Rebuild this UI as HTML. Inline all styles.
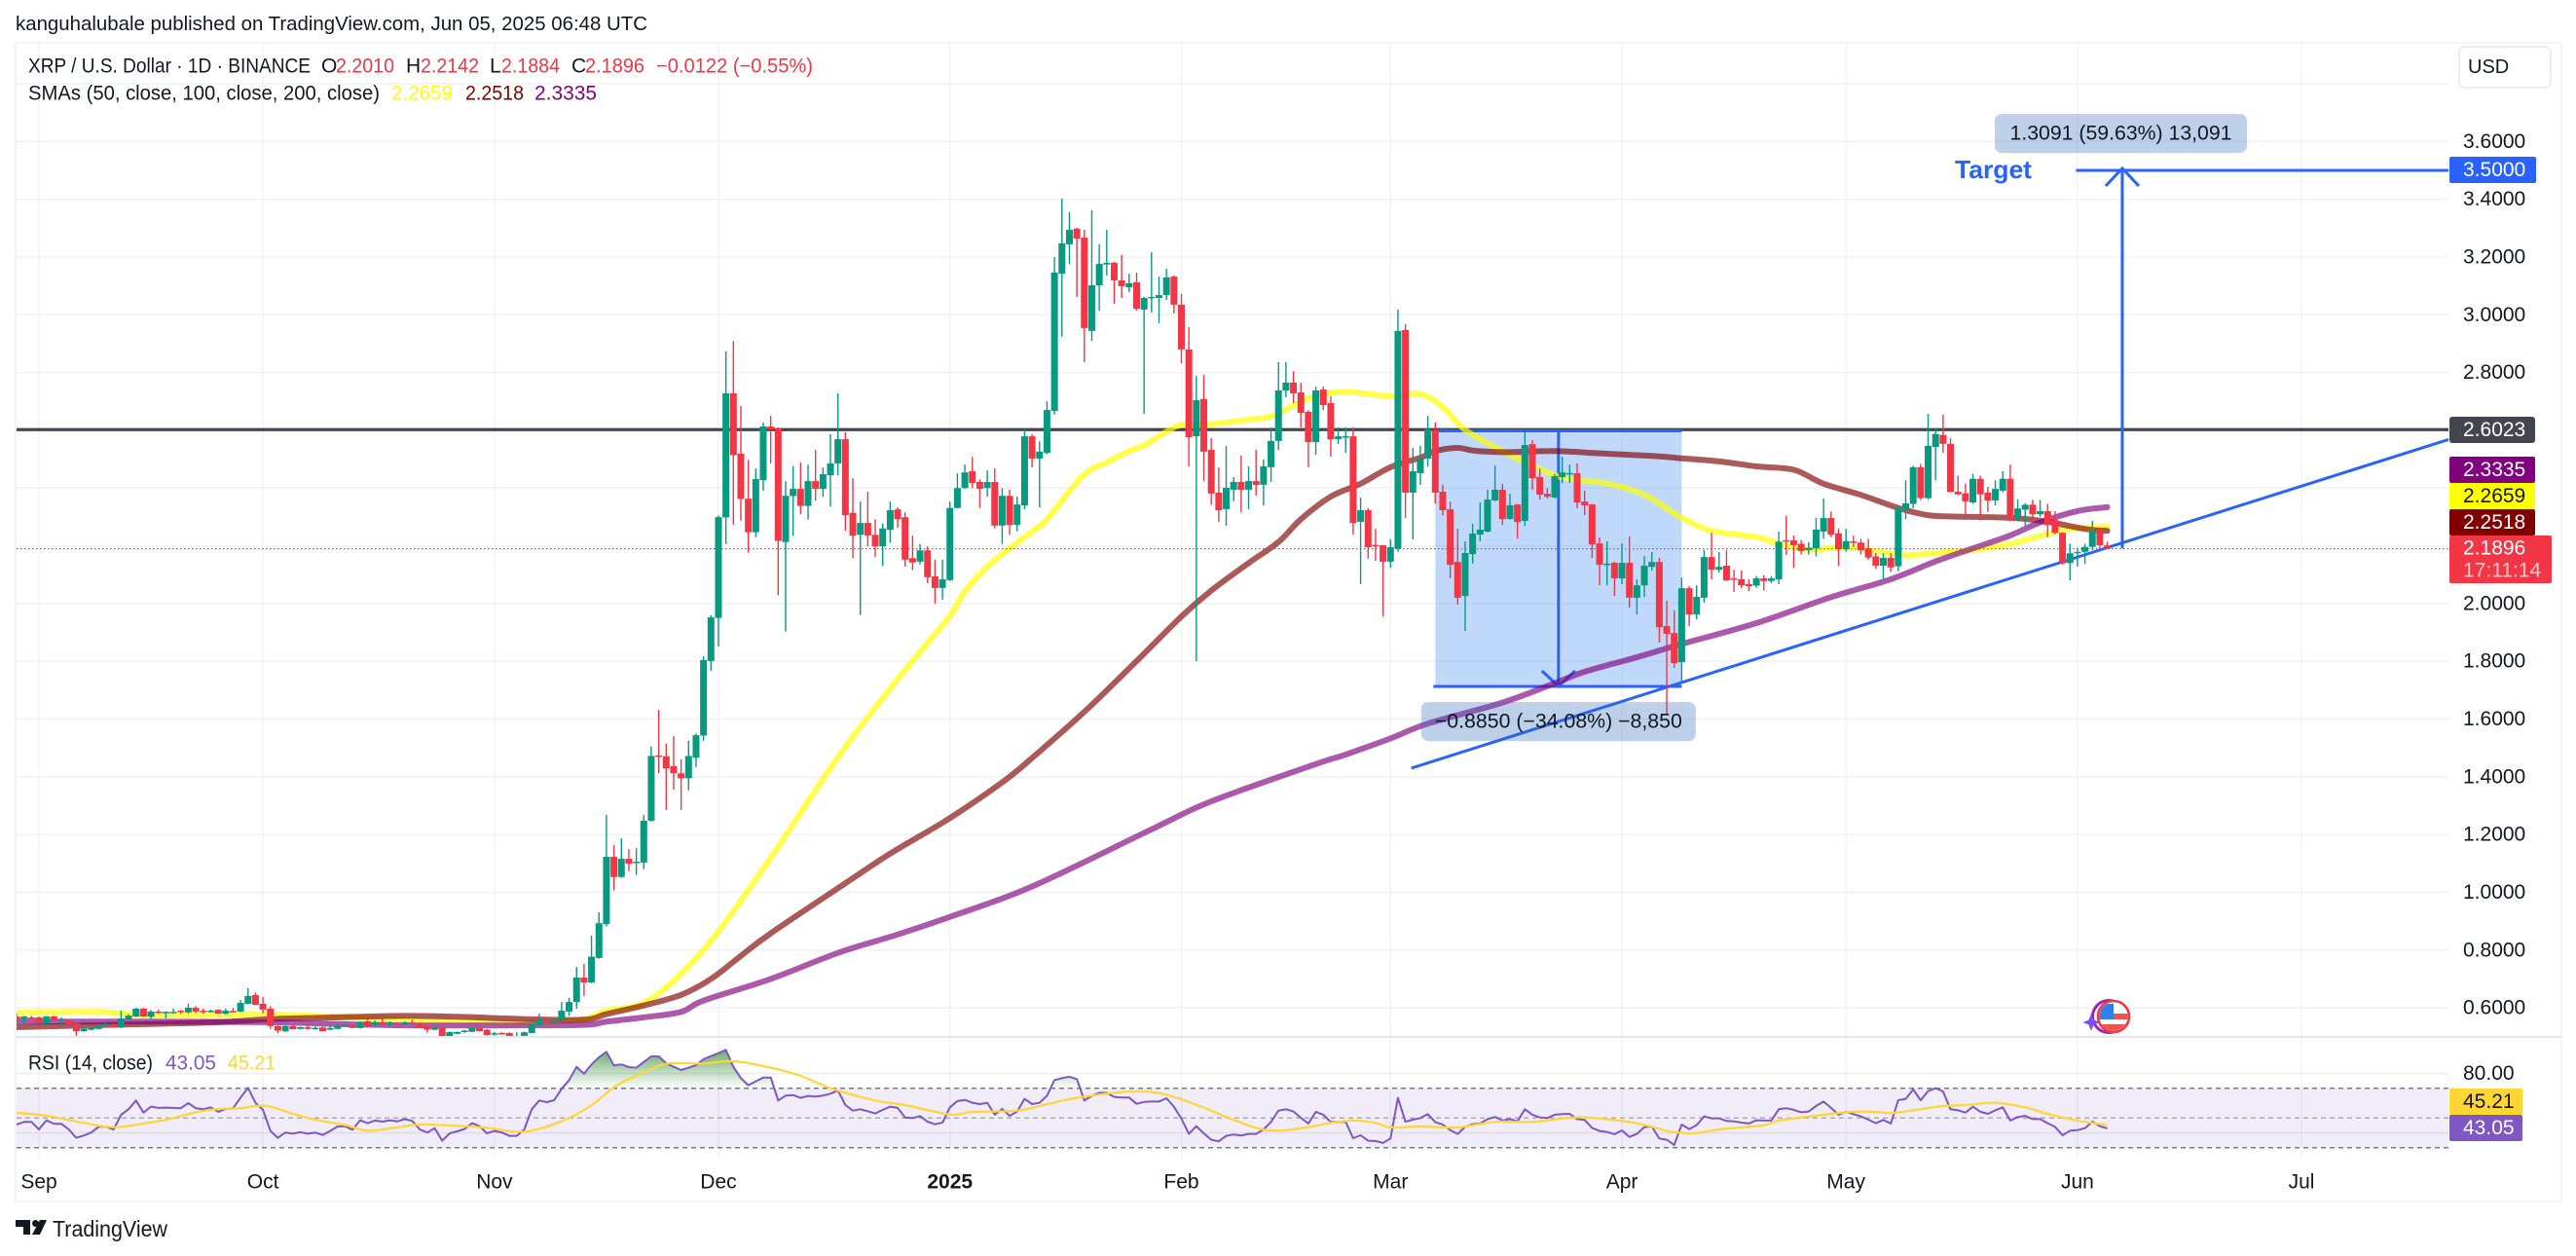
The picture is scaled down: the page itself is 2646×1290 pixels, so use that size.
<!DOCTYPE html>
<html lang="en">
<head>
<meta charset="utf-8">
<title>XRP / U.S. Dollar chart</title>
<style>
html,body{margin:0;padding:0;background:#fff;width:2646px;height:1290px;overflow:hidden}
svg{display:block;font-family:"Liberation Sans",Arial,sans-serif}
text{fill:#131722;font-size:21px;dominant-baseline:central}
</style>
</head>
<body>
<svg id="root" width="2646" height="1290" viewBox="0 0 2646 1290" xmlns="http://www.w3.org/2000/svg">
  <defs>
    <clipPath id="pricePaneClip"><rect x="17" y="44" width="2498" height="1021"/></clipPath>
    <clipPath id="rsiPaneClip"><rect x="17" y="1066" width="2498" height="124"/></clipPath>
    <clipPath id="overboughtClip"><rect x="17" y="1066" width="2498" height="51.3"/></clipPath>
    <clipPath id="flagClip"><circle cx="2171" cy="1044" r="14.5"/></clipPath>
    <linearGradient id="overboughtGradient" x1="0" y1="1078" x2="0" y2="1117" gradientUnits="userSpaceOnUse">
      <stop offset="0" stop-color="#388e3c" stop-opacity="0.75"/>
      <stop offset="1" stop-color="#388e3c" stop-opacity="0.02"/>
    </linearGradient>
    <filter id="softShadow" x="-10%" y="-20%" width="120%" height="150%"><feDropShadow dx="0" dy="1" stdDeviation="2" flood-color="#000" flood-opacity="0.1"/></filter>
  </defs>

  <text x="16" y="25" font-size="20" style="font-size:20px" textLength="649" lengthAdjust="spacingAndGlyphs">kanguhalubale published on TradingView.com, Jun 05, 2025 06:48 UTC</text>

  <g id="frame" fill="none" stroke="#f3f4f6" stroke-width="2">
    <path d="M16 1234V44H2631V1234H16Z"/>
  </g>
  <g id="grid"></g>
  <g id="rsiBand"></g>
  <g id="drawingsBelow" clip-path="url(#pricePaneClip)"></g>
  <g id="smas" clip-path="url(#pricePaneClip)"></g>
  <g id="candles" clip-path="url(#pricePaneClip)"></g>
  <line id="priceLine" x1="17" x2="2515" stroke="#f23645" stroke-width="1.3" stroke-dasharray="1.5 2.5"/>
  <line x1="16" x2="2631" y1="1065" y2="1065" stroke="#e4e6ee" stroke-width="2"/>
  <g id="rsiLines" clip-path="url(#rsiPaneClip)"></g>
  <g id="drawingsAbove"></g>

  <g id="legend">
    <text x="29" y="68" textLength="290" lengthAdjust="spacingAndGlyphs">XRP / U.S. Dollar · 1D · BINANCE</text>
    <text x="330" y="68">O</text>
    <text x="345" y="68" style="fill:#f23645" textLength="60" lengthAdjust="spacingAndGlyphs">2.2010</text>
    <text x="417" y="68">H</text>
    <text x="432" y="68" style="fill:#f23645" textLength="60" lengthAdjust="spacingAndGlyphs">2.2142</text>
    <text x="503" y="68">L</text>
    <text x="515" y="68" style="fill:#f23645" textLength="60" lengthAdjust="spacingAndGlyphs">2.1884</text>
    <text x="587" y="68">C</text>
    <text x="601" y="68" style="fill:#f23645" textLength="61" lengthAdjust="spacingAndGlyphs">2.1896</text>
    <text x="674" y="68" style="fill:#f23645" textLength="161" lengthAdjust="spacingAndGlyphs">−0.0122 (−0.55%)</text>
    <text x="29" y="96" textLength="361" lengthAdjust="spacingAndGlyphs">SMAs (50, close, 100, close, 200, close)</text>
    <text x="402" y="96" style="fill:#ffff00" textLength="63" lengthAdjust="spacingAndGlyphs">2.2659</text>
    <text x="478" y="96" style="fill:#800000" textLength="60" lengthAdjust="spacingAndGlyphs">2.2518</text>
    <text x="549" y="96" style="fill:#800080" textLength="64" lengthAdjust="spacingAndGlyphs">2.3335</text>
    <text x="29" y="1092" textLength="128" lengthAdjust="spacingAndGlyphs">RSI (14, close)</text>
    <text x="170" y="1092" style="fill:#7e57c2" textLength="52" lengthAdjust="spacingAndGlyphs">43.05</text>
    <text x="234" y="1092" style="fill:#ffd633" textLength="49" lengthAdjust="spacingAndGlyphs">45.21</text>
  </g>

  <g>
    <rect x="2526" y="48" width="94" height="42" rx="6" fill="#fff" stroke="#eceef3" stroke-width="2"/>
    <text x="2535" y="69" style="font-size:20px">USD</text>
  </g>

  <g id="priceAxis"></g>
  <g id="timeAxis"></g>

  <g>
    <rect x="2516" y="161" width="89" height="27" rx="2" fill="#2962ff"/>
    <text x="2530" y="174.5" style="fill:#fff">3.5000</text>
    <rect x="2516" y="428" width="88" height="27" rx="3" fill="#434651"/>
    <text x="2530" y="441.5" style="fill:#fff">2.6023</text>
    <rect x="2516" y="469" width="88" height="27" rx="2" fill="#800080"/>
    <text x="2530" y="482.5" style="fill:#fff">2.3335</text>
    <rect x="2516" y="496" width="88" height="27" rx="2" fill="#ffff00"/>
    <text x="2530" y="509.5">2.2659</text>
    <rect x="2516" y="523" width="88" height="27" rx="2" fill="#800000"/>
    <text x="2530" y="536.5" style="fill:#fff">2.2518</text>
    <rect x="2516" y="550" width="105" height="49" rx="2" fill="#f23645"/>
    <text x="2530" y="563" style="fill:#fff">2.1896</text>
    <text x="2530" y="586" style="fill:#fff;fill-opacity:.72">17:11:14</text>
    <rect x="2516" y="1118" width="75" height="27" rx="2" fill="#ffd633"/>
    <text x="2530" y="1131.5">45.21</text>
    <rect x="2516" y="1145" width="75" height="27" rx="2" fill="#7e57c2"/>
    <text x="2530" y="1158.5" style="fill:#fff">43.05</text>
  </g>

  <g>
    <circle cx="2166" cy="1044" r="16.5" fill="none" stroke="#9c27b0" stroke-width="3"/>
    <path d="M2148 1041 L2150.5 1047.5 L2157 1050 L2150.5 1052.5 L2148 1059 L2145.5 1052.5 L2139.5 1050 L2145.5 1047.5Z" fill="#7c4dff"/>
    <circle cx="2171" cy="1044" r="16" fill="#fff" stroke="#f23645" stroke-width="2.6"/>
    <g clip-path="url(#flagClip)">
      <rect x="2156" y="1030" width="30" height="6" fill="#ffffff"/>
      <rect x="2156" y="1041" width="30" height="6" fill="#ef5350"/>
      <rect x="2156" y="1052" width="30" height="7" fill="#ef5350"/>
      <rect x="2156" y="1031" width="15" height="16" fill="#2f80ed"/>
    </g>
  </g>

  <g>
    <polygon points="16,1253 31,1253 31,1268 24,1268 24,1260 16,1260" fill="#131722"/>
    <circle cx="36.5" cy="1256.5" r="3.5" fill="#131722"/>
    <polygon points="41,1253 48,1253 41,1268 33,1268" fill="#131722"/>
    <text x="54" y="1262" style="font-size:23px" textLength="118" lengthAdjust="spacingAndGlyphs">TradingView</text>
  </g>
</svg>

<script>
// Tick labels and months
const priceTicks = [3.6, 3.4, 3.2, 3.0, 2.8, 2.0, 1.8, 1.6, 1.4, 1.2, 1.0, 0.8, 0.6];
const priceGridOnly = [3.8, 2.6, 2.4, 2.2];
const rsiTicks = [80];
const rsiGridOnly = [40];
const monthLabels = ["Sep", "Oct", "Nov", "Dec", "2025", "Feb", "Mar", "Apr", "May", "Jun", "Jul"];
const monthDays = [0, 30, 61, 91, 122, 153, 181, 212, 242, 273, 303];

// Daily candles: first entry is day -3 (days counted from Sep 1, 2024)
const firstDay = -3;
const opens = [
.570,.561,.567,.567,.546,.570,.559,.559,.546,.519,
.524,.527,.539,.543,.532,.561,.570,.597,.569,.587,
.585,.585,.590,.584,.600,.590,.585,.593,.580,.589,
.587,.614,.644,.614,.597,.537,.519,.537,.527,.533,
.530,.532,.524,.527,.539,.540,.530,.553,.540,.550,
.541,.546,.544,.549,.546,.536,.524,.532,.499,.510,
.517,.517,.530,.524,.507,.513,.513,.500,.503,.513,
.540,.558,.550,.558,.587,.620,.705,.688,.773,.890,
1.123,1.053,1.116,1.104,1.103,1.248,1.474,1.471,1.437,1.412,
1.395,1.466,1.543,1.801,1.950,2.298,2.728,2.519,2.363,2.247,
2.427,2.613,2.606,2.213,2.372,2.397,2.338,2.424,2.397,2.444,
2.485,2.569,2.314,2.238,2.279,2.238,2.198,2.255,2.326,2.299,
2.157,2.145,2.184,2.094,2.054,2.081,2.331,2.400,2.458,2.421,
2.400,2.421,2.270,2.373,2.272,2.340,2.579,2.502,2.522,2.667,
3.142,3.244,3.298,3.267,2.944,3.102,3.174,3.180,3.119,3.095,
3.112,3.018,3.058,3.058,3.068,3.132,3.035,2.880,2.579,2.708,
2.532,2.384,2.327,2.394,2.421,2.394,2.424,2.411,2.472,2.563,
2.738,2.765,2.731,2.664,2.559,2.741,2.694,2.569,2.577,2.579,
2.283,2.323,2.203,2.202,2.145,2.190,2.947,2.384,2.451,2.502,
2.600,2.387,2.326,2.144,2.026,2.171,2.239,2.249,2.357,2.394,
2.293,2.343,2.286,2.552,2.438,2.380,2.367,2.438,2.450,2.451,
2.353,2.343,2.208,2.136,2.141,2.087,2.141,2.020,2.063,2.127,
2.144,1.922,1.898,1.797,2.053,1.962,2.020,2.161,2.117,2.131,
2.087,2.084,2.067,2.062,2.087,2.078,2.084,2.219,2.219,2.207,
2.185,2.191,2.249,2.296,2.243,2.188,2.215,2.211,2.191,2.163,
2.131,2.158,2.129,2.325,2.345,2.472,2.365,2.542,2.584,2.553,
2.387,2.382,2.350,2.432,2.384,2.357,2.391,2.432,2.292,2.325,
2.342,2.309,2.320,2.289,2.245,2.140,2.174,2.179,2.196,2.249,
2.2010];
const highs = [
.581,.572,.572,.570,.572,.573,.567,.561,.548,.530,
.533,.546,.548,.546,.590,.578,.600,.600,.593,.594,
.588,.597,.592,.614,.606,.597,.594,.595,.597,.600,
.627,.668,.653,.637,.606,.540,.540,.540,.535,.545,
.536,.535,.548,.545,.543,.543,.553,.562,.557,.562,
.553,.549,.553,.560,.549,.539,.536,.534,.518,.518,
.524,.533,.532,.526,.516,.516,.515,.516,.518,.544,
.580,.563,.563,.620,.635,.742,.752,.850,.931,1.268,
1.163,1.187,1.149,1.153,1.268,1.505,1.632,1.515,1.541,1.461,
1.525,1.550,1.817,1.959,2.305,2.873,2.909,2.684,2.498,2.468,
2.627,2.650,2.610,2.424,2.475,2.488,2.481,2.532,2.471,2.586,
2.728,2.593,2.434,2.353,2.387,2.292,2.277,2.353,2.333,2.316,
2.235,2.206,2.198,2.152,2.152,2.353,2.451,2.481,2.508,2.430,
2.461,2.468,2.400,2.394,2.370,2.603,2.586,2.561,2.700,3.200,
3.402,3.355,3.301,3.294,3.362,3.244,3.294,3.183,3.207,3.142,
3.146,3.062,3.217,3.132,3.159,3.136,3.072,2.957,2.788,2.792,
2.573,2.472,2.546,2.438,2.512,2.475,2.532,2.499,2.610,2.836,
2.836,2.805,2.765,2.670,2.751,2.751,2.718,2.610,2.610,2.610,
2.367,2.330,2.259,2.202,2.222,3.018,2.967,2.539,2.546,2.650,
2.627,2.411,2.353,2.259,2.215,2.276,2.350,2.394,2.478,2.414,
2.380,2.345,2.593,2.566,2.468,2.400,2.448,2.508,2.481,2.485,
2.390,2.345,2.229,2.215,2.145,2.208,2.232,2.084,2.164,2.178,
2.158,2.010,1.976,2.090,2.060,2.063,2.185,2.245,2.178,2.185,
2.117,2.114,2.084,2.095,2.098,2.095,2.249,2.303,2.236,2.220,
2.213,2.297,2.364,2.319,2.260,2.258,2.235,2.224,2.224,2.175,
2.174,2.174,2.340,2.427,2.477,2.483,2.657,2.606,2.654,2.573,
2.443,2.415,2.449,2.443,2.404,2.427,2.458,2.481,2.361,2.347,
2.359,2.359,2.345,2.320,2.247,2.207,2.193,2.207,2.286,2.258,
2.2142];
const lows = [
.555,.546,.560,.548,.546,.555,.537,.543,.503,.517,
.522,.526,.537,.532,.530,.559,.568,.568,.561,.580,
.563,.583,.579,.580,.581,.580,.583,.580,.576,.584,
.585,.612,.610,.581,.527,.512,.516,.526,.525,.525,
.524,.519,.522,.525,.536,.530,.528,.532,.537,.541,
.539,.542,.539,.544,.530,.514,.522,.499,.499,.508,
.514,.516,.519,.504,.504,.507,.499,.499,.502,.512,
.538,.555,.548,.556,.572,.597,.641,.685,.770,.882,
1.007,1.050,1.073,1.060,1.080,1.245,1.412,1.285,1.356,1.285,
1.353,1.434,1.525,1.767,1.851,2.206,2.272,2.287,2.176,2.230,
2.390,2.485,2.028,1.903,2.234,2.309,2.291,2.357,2.369,2.335,
2.443,2.252,2.157,1.960,2.198,2.162,2.130,2.211,2.262,2.128,
2.116,2.135,2.071,2.000,2.014,2.078,2.329,2.397,2.400,2.331,
2.370,2.260,2.206,2.238,2.250,2.326,2.472,2.333,2.517,2.654,
2.924,3.176,3.062,2.836,2.910,3.014,3.136,3.038,3.058,3.078,
3.014,2.657,3.008,2.971,3.051,3.004,2.832,2.475,1.800,2.424,
2.342,2.283,2.269,2.354,2.316,2.327,2.374,2.340,2.421,2.532,
2.714,2.694,2.610,2.472,2.515,2.670,2.509,2.552,2.522,2.239,
2.067,2.155,2.148,1.956,2.124,2.179,2.296,2.222,2.411,2.475,
2.346,2.305,2.087,1.996,1.905,2.138,2.215,2.246,2.354,2.272,
2.290,2.225,2.269,2.394,2.360,2.363,2.364,2.417,2.417,2.330,
2.306,2.158,2.063,2.063,2.026,2.067,1.986,1.962,2.023,2.114,
1.865,1.617,1.777,1.723,1.922,1.945,2.003,2.084,2.107,2.078,
2.040,2.053,2.043,2.055,2.045,2.070,2.067,2.168,2.123,2.170,
2.170,2.163,2.224,2.230,2.129,2.180,2.195,2.170,2.151,2.120,
2.084,2.110,2.112,2.292,2.330,2.359,2.360,2.427,2.522,2.385,
2.375,2.309,2.345,2.288,2.317,2.340,2.385,2.285,2.285,2.270,
2.290,2.300,2.230,2.240,2.135,2.080,2.128,2.137,2.185,2.190,
2.1884];
const closes = [
.559,.570,.563,.548,.570,.557,.561,.543,.519,.528,
.531,.540,.543,.532,.563,.573,.597,.570,.587,.585,
.586,.586,.588,.600,.587,.588,.590,.580,.590,.587,
.617,.641,.610,.594,.537,.521,.537,.526,.533,.527,
.531,.519,.530,.539,.540,.530,.551,.537,.550,.544,
.550,.544,.550,.546,.530,.524,.533,.499,.516,.516,
.521,.530,.519,.506,.512,.510,.499,.502,.515,.543,
.557,.557,.559,.590,.620,.705,.688,.777,.893,1.123,
1.053,1.116,1.099,1.106,1.248,1.472,1.470,1.429,1.412,1.395,
1.472,1.544,1.804,1.952,2.299,2.728,2.514,2.362,2.247,2.431,
2.613,2.603,2.217,2.373,2.397,2.338,2.424,2.397,2.448,2.485,
2.569,2.306,2.235,2.279,2.235,2.198,2.260,2.323,2.292,2.152,
2.142,2.184,2.091,2.054,2.084,2.331,2.400,2.454,2.417,2.397,
2.421,2.270,2.373,2.272,2.343,2.579,2.502,2.526,2.670,3.146,
3.247,3.294,3.264,2.954,3.102,3.176,3.180,3.119,3.099,3.109,
3.021,3.058,3.062,3.068,3.129,3.035,2.880,2.576,2.704,2.526,
2.381,2.323,2.401,2.421,2.394,2.424,2.411,2.475,2.563,2.738,
2.765,2.728,2.660,2.559,2.738,2.687,2.569,2.579,2.579,2.279,
2.323,2.195,2.200,2.145,2.195,2.944,2.384,2.458,2.502,2.603,
2.384,2.323,2.134,2.020,2.175,2.242,2.256,2.360,2.394,2.293,
2.340,2.282,2.549,2.434,2.377,2.370,2.441,2.454,2.452,2.350,
2.340,2.205,2.134,2.138,2.087,2.141,2.020,2.063,2.131,2.144,
1.918,1.895,1.794,2.053,1.962,2.023,2.161,2.117,2.127,2.080,
2.084,2.063,2.060,2.087,2.078,2.087,2.214,2.216,2.202,2.182,
2.193,2.256,2.296,2.239,2.188,2.216,2.210,2.185,2.159,2.131,
2.158,2.125,2.331,2.347,2.472,2.365,2.546,2.587,2.553,2.387,
2.378,2.354,2.432,2.378,2.356,2.397,2.432,2.292,2.329,2.342,
2.309,2.320,2.272,2.245,2.139,2.174,2.179,2.196,2.249,2.202,
2.1896];

// Moving averages
const sma50Days = [-3,8,13,20,30,40,47,53,59,68,73,76,81,86,91,98,107,115,122,124,128,133,135,139,141,143,146,148,151,153,157,162,165,168,171,175,181,185,188,191,196,201,204,210,215,220,224,230,233,237,242,245,250,256,260,265,269,272,277];
const sma50Values = [.584,.586,.577,.574,.578,.569,.561,.555,.552,.550,.561,.589,.617,.718,.865,1.120,1.468,1.738,1.957,2.043,2.150,2.249,2.292,2.421,2.466,2.488,2.528,2.548,2.595,2.618,2.621,2.637,2.648,2.685,2.719,2.733,2.718,2.725,2.680,2.601,2.528,2.466,2.436,2.415,2.376,2.297,2.252,2.230,2.207,2.187,2.196,2.185,2.168,2.179,2.188,2.213,2.241,2.258,2.2659];
const sma100Days = [-3,6,15,24,31,40,49,56,65,73,76,81,86,90,94,98,107,114,121,126,130,133,140,147,153,157,162,166,169,173,177,181,185,187,190,192,196,203,209,216,220,225,230,235,239,244,249,253,257,264,269,274,277];
const sma100Values = [.533,.539,.544,.550,.561,.567,.572,.569,.561,.559,.578,.608,.645,.700,.780,.858,1.014,1.134,1.241,1.326,1.400,1.465,1.625,1.801,1.955,2.045,2.140,2.213,2.292,2.370,2.415,2.472,2.505,2.528,2.539,2.530,2.524,2.528,2.520,2.511,2.503,2.492,2.475,2.463,2.415,2.376,2.331,2.306,2.301,2.297,2.283,2.258,2.2518];
const sma200Days = [-3,13,31,40,50,62,73,76,81,86,89,98,107,115,122,133,149,157,171,175,181,186,196,203,207,214,220,230,240,248,254,259,264,268,273,277];
const sma200Values = [.552,.552,.550,.544,.539,.539,.541,.552,.567,.586,.625,.700,.790,.854,.915,1.020,1.218,1.315,1.444,1.477,1.533,1.584,1.657,1.724,1.764,1.814,1.860,1.932,2.022,2.084,2.146,2.191,2.236,2.281,2.320,2.3335];

// RSI, one value per candle
const rsiValues = [
45.6,47.4,47.4,42.3,48.5,46.1,46.1,42.3,36.7,38.2,
40.2,44.1,44.1,42.3,52.2,55.9,61.8,53.7,57.7,56.8,
57.0,56.8,56.6,60.1,56.6,55.9,57.2,54.2,56.1,56.6,
63.8,70.3,60.3,55.5,41.3,36.7,40.2,39.5,40.4,39.5,
40.2,38.6,41.3,44.3,44.5,42.1,48.5,46.5,48.3,47.6,
48.5,47.8,49.3,48.0,42.3,40.2,43.2,34.7,39.7,41.0,
42.6,46.5,44.5,39.7,41.3,40.2,38.0,38.0,42.3,55.9,
61.8,60.7,62.0,69.7,75.6,84.5,79.9,86.1,90.9,94.6,
85.4,86.1,84.3,83.9,87.8,91.5,91.5,86.9,84.5,82.3,
83.9,85.6,89.6,91.7,93.7,95.9,84.5,76.9,72.1,74.7,
77.3,77.3,61.8,65.1,65.5,63.6,64.9,64.4,65.1,66.4,
68.6,58.7,55.0,55.9,54.6,53.1,55.5,57.7,56.8,50.4,
50.0,51.3,47.6,45.8,46.9,57.2,61.4,62.2,60.3,59.4,
60.3,52.2,56.1,51.5,54.4,62.9,59.4,60.3,65.1,75.6,
76.9,77.8,76.2,61.8,64.9,67.0,67.0,64.2,63.8,63.8,
59.6,60.9,61.1,61.1,63.3,57.7,49.6,39.3,44.5,39.7,
35.4,34.3,38.0,38.9,38.2,39.3,39.3,42.3,47.4,55.0,
55.9,54.4,50.2,46.3,54.2,52.2,47.4,47.4,47.4,36.4,
38.4,34.7,34.5,33.2,36.2,63.6,47.6,48.9,50.0,52.6,
47.2,45.6,41.9,39.3,44.1,45.8,46.3,49.3,50.7,48.3,
49.3,47.8,55.9,52.2,50.4,50.0,52.2,52.6,52.8,49.3,
48.7,43.4,41.3,40.6,39.1,41.7,37.3,39.3,43.9,44.3,
36.2,35.4,31.9,45.6,42.6,45.2,51.1,49.8,49.8,48.0,
47.8,46.9,46.3,48.5,48.3,48.3,55.9,56.6,55.5,53.9,
54.4,58.1,61.1,56.8,52.2,54.2,52.6,51.1,48.9,46.5,
48.7,46.3,62.0,62.9,69.2,62.0,68.1,70.1,67.9,55.9,
55.2,53.7,57.7,54.2,52.8,55.2,57.2,48.3,50.7,51.5,
49.3,49.3,46.5,44.1,38.4,41.5,41.9,43.2,47.6,44.5,
43.05];
const rsiMaDays = [-3,0,2,6,9,11,14,17,21,24,27,29,31,34,37,41,44,47,51,56,60,65,70,74,77,80,84,89,93,98,102,106,112,116,122,125,131,135,139,145,149,152,156,159,163,166,170,173,176,179,181,185,190,195,200,204,207,213,216,219,222,225,231,233,239,243,246,248,251,252,255,258,262,266,269,273,277];
const rsiMaValues = [53.5,52.2,50.7,46.7,44.1,44.1,46.3,48.9,53.9,56.1,56.6,58.1,57.7,52.8,48.9,45.2,41.5,43.0,45.6,44.8,43.4,40.8,47.8,58.7,70.8,78.4,86.5,86.7,88.3,83.9,78.4,70.1,61.8,58.7,52.4,54.2,55.0,59.4,63.6,67.5,67.5,64.2,57.0,50.7,43.4,41.5,43.9,46.7,48.3,46.7,43.7,44.3,43.7,47.4,47.4,49.6,50.4,47.4,44.1,40.4,39.9,42.3,45.2,48.3,52.2,54.2,54.2,53.3,55.2,55.9,58.1,58.7,60.3,57.2,52.8,48.3,45.21];

// Drawn levels
const levelPrice = 2.6023;
const lastPrice = 2.1896;
const targetPrice = 3.5;
const rangeStartDay = 187;
const rangeEndDay = 220;
const rangeMidDay = 203.5;
const rangeTopPrice = 2.598;
const rangeBottomPrice = 1.713;
const targetStartDay = 272.8;
const targetArrowDay = 279;
const targetArrowBasePrice = 2.191;
const trendStartDay = 183.8;
const trendStartPrice = 1.430;
const trendEndDay = 322.7;
const trendEndPrice = 2.568;

// Axis functions
function xDay(d) { return 40 + 7.67 * d; }
function yPrice(p) { return 145.3 + (3.6 - p) * 296.6; }
function yRsi(r) { return 1148.3 - (r - 50) * 1.525; }

const SVG_NS = 'http://www.w3.org/2000/svg';
function make(parent, tag, attrs) {
  const el = document.createElementNS(SVG_NS, tag);
  for (const k in attrs) el.setAttribute(k, attrs[k]);
  parent.appendChild(el);
  return el;
}
function pts(days, values, yFn) {
  return days.map((d, i) => xDay(d).toFixed(1) + ',' + yFn(values[i]).toFixed(1)).join(' ');
}
// Smooth curve through the sampled moving-average readings
function smoothPath(days, values, yFn) {
  const p = days.map((d, i) => [xDay(d), yFn(values[i])]);
  let out = 'M' + p[0][0].toFixed(1) + ' ' + p[0][1].toFixed(1);
  for (let i = 0; i < p.length - 1; i++) {
    const a = p[Math.max(0, i - 1)], b = p[i], c = p[i + 1], e = p[Math.min(p.length - 1, i + 2)];
    const c1x = b[0] + (c[0] - a[0]) / 6, c1y = b[1] + (c[1] - a[1]) / 6;
    const c2x = c[0] - (e[0] - b[0]) / 6, c2y = c[1] - (e[1] - b[1]) / 6;
    out += 'C' + c1x.toFixed(1) + ' ' + c1y.toFixed(1) + ' ' + c2x.toFixed(1) + ' ' + c2y.toFixed(1) + ' ' + c[0].toFixed(1) + ' ' + c[1].toFixed(1);
  }
  return out;
}

// Grid
const grid = document.getElementById('grid');
priceTicks.concat(priceGridOnly).forEach(p => {
  const el = make(grid, 'line', {x1: 17, x2: 2515, y1: yPrice(p), y2: yPrice(p), stroke: '#f1f2f4', 'stroke-width': 1.6});
  
  
});
rsiTicks.concat(rsiGridOnly).forEach(r => {
  const el = make(grid, 'line', {x1: 17, x2: 2515, y1: yRsi(r), y2: yRsi(r), stroke: '#eceef2', 'stroke-width': 1.6});
  
  
});
monthDays.forEach(d => {
  const el = make(grid, 'line', {x1: xDay(d), x2: xDay(d), y1: 44, y2: 1190, stroke: '#f0f1f4', 'stroke-width': 1.2});
  
  
});

// RSI band
const bandGroup = document.getElementById('rsiBand');
const band = make(bandGroup, 'rect', {x: 17, y: yRsi(70), width: 2498, height: yRsi(30) - yRsi(70), fill: '#7e57c2', 'fill-opacity': 0.115});


[70, 30].forEach(r => {
  const el = make(bandGroup, 'line', {x1: 17, x2: 2515, y1: yRsi(r), y2: yRsi(r), stroke: '#787b86', 'stroke-width': 1.5, 'stroke-dasharray': '5 4'});
  
  
});
const rsiMid = make(bandGroup, 'line', {x1: 17, x2: 2515, y1: yRsi(50), y2: yRsi(50), stroke: '#a9abb5', 'stroke-width': 1.5, 'stroke-dasharray': '5 4'});



// Drawings below series
const below = document.getElementById('drawingsBelow');
const rangeFill = make(below, 'rect', {x: xDay(rangeStartDay), y: yPrice(rangeTopPrice), width: xDay(rangeEndDay) - xDay(rangeStartDay), height: yPrice(rangeBottomPrice) - yPrice(rangeTopPrice), fill: '#1e78f0', 'fill-opacity': 0.28});


const levelLine = make(below, 'line', {x1: 17, x2: 2515, y1: yPrice(levelPrice), y2: yPrice(levelPrice), stroke: '#434651', 'stroke-width': 3.2});


const blue = {stroke: '#2962ff', 'stroke-width': 3, fill: 'none'};
const rangeTop = make(below, 'line', Object.assign({x1: xDay(rangeStartDay) + 2, x2: xDay(rangeEndDay), y1: yPrice(rangeTopPrice), y2: yPrice(rangeTopPrice)}, blue));


const rangeBottom = make(below, 'line', Object.assign({x1: xDay(rangeStartDay) - 2, x2: xDay(rangeEndDay), y1: yPrice(rangeBottomPrice), y2: yPrice(rangeBottomPrice)}, blue));


const rangeArrow = make(below, 'line', Object.assign({x1: xDay(rangeMidDay), x2: xDay(rangeMidDay), y1: yPrice(rangeTopPrice), y2: yPrice(rangeBottomPrice)}, blue));


const rx = xDay(rangeMidDay), ry = yPrice(rangeBottomPrice);
const rangeHead = make(below, 'polyline', Object.assign({points: (rx - 17) + ',' + (ry - 16) + ' ' + rx + ',' + ry + ' ' + (rx + 17) + ',' + (ry - 16)}, blue));


const targetLine = make(below, 'line', Object.assign({x1: xDay(targetStartDay), x2: 2515, y1: yPrice(targetPrice), y2: yPrice(targetPrice)}, blue));


const targetShaft = make(below, 'line', Object.assign({x1: xDay(targetArrowDay), x2: xDay(targetArrowDay), y1: yPrice(targetArrowBasePrice), y2: yPrice(targetPrice)}, blue));


const tx = xDay(targetArrowDay), ty = yPrice(targetPrice) - 2;
const targetHead = make(below, 'polyline', Object.assign({points: (tx - 17) + ',' + (ty + 18) + ' ' + tx + ',' + ty + ' ' + (tx + 17) + ',' + (ty + 18)}, blue));


const trend = make(below, 'line', Object.assign({x1: xDay(trendStartDay), y1: yPrice(trendStartPrice), x2: xDay(trendEndDay), y2: yPrice(trendEndPrice)}, blue));



// Moving averages
const smas = document.getElementById('smas');
const sma50Line = make(smas, 'path', {d: smoothPath(sma50Days, sma50Values, yPrice), fill: 'none', stroke: '#ffff00', 'stroke-opacity': 0.7, 'stroke-width': 6, 'stroke-linejoin': 'round', 'stroke-linecap': 'round'});


const sma100Line = make(smas, 'path', {d: smoothPath(sma100Days, sma100Values, yPrice), fill: 'none', stroke: '#800000', 'stroke-opacity': 0.65, 'stroke-width': 6, 'stroke-linejoin': 'round', 'stroke-linecap': 'round'});


const sma200Line = make(smas, 'path', {d: smoothPath(sma200Days, sma200Values, yPrice), fill: 'none', stroke: '#800080', 'stroke-opacity': 0.65, 'stroke-width': 6, 'stroke-linejoin': 'round', 'stroke-linecap': 'round'});



// Candles
const candleGroup = document.getElementById('candles');
closes.forEach((c, i) => {
  const d = firstDay + i;
  const o = opens[i];
  const color = c >= o ? '#089981' : '#f23645';
  const x = xDay(d);
  const wick = make(candleGroup, 'line', {x1: x, x2: x, y1: yPrice(highs[i]), y2: yPrice(lows[i]), stroke: color, 'stroke-width': 1.4});
  
  
  const top = yPrice(Math.max(o, c));
  const h = Math.max(1.5, yPrice(Math.min(o, c)) - top);
  const body = make(candleGroup, 'rect', {x: x - 3.5, y: top, width: 7, height: h, fill: color});
  
  
});

document.getElementById('priceLine').setAttribute('y1', yPrice(lastPrice));
document.getElementById('priceLine').setAttribute('y2', yPrice(lastPrice));

// RSI
const rsiGroup = document.getElementById('rsiLines');
const rsiDays = rsiValues.map((v, i) => firstDay + i);
const areaPts = xDay(rsiDays[0]) + ',' + yRsi(70) + ' ' + pts(rsiDays, rsiValues, v => Math.min(yRsi(v), yRsi(70))) + ' ' + xDay(rsiDays[rsiDays.length - 1]) + ',' + yRsi(70);
const rsiFill = make(rsiGroup, 'polygon', {points: areaPts, fill: 'url(#overboughtGradient)', 'clip-path': 'url(#overboughtClip)'});


const rsiLine = make(rsiGroup, 'polyline', {points: pts(rsiDays, rsiValues, yRsi), fill: 'none', stroke: '#7e57c2', 'stroke-width': 2, 'stroke-linejoin': 'round'});


const rsiMaLine = make(rsiGroup, 'path', {d: smoothPath(rsiMaDays, rsiMaValues, yRsi), fill: 'none', stroke: '#ffd633', 'stroke-width': 2.2, 'stroke-linejoin': 'round'});



// Measure labels
const above = document.getElementById('drawingsAbove');
const lowBoxX = xDay(rangeMidDay) - 141;
const lowBox = make(above, 'rect', {x: lowBoxX, y: yPrice(rangeBottomPrice) + 16, width: 282, height: 40, rx: 7, fill: '#2e6cc0', 'fill-opacity': 0.29, filter: 'url(#softShadow)'});


const lowText = make(above, 'text', {x: lowBoxX + 141, y: yPrice(rangeBottomPrice) + 36, 'text-anchor': 'middle', textLength: 254, lengthAdjust: 'spacingAndGlyphs'});
lowText.textContent = '−0.8850 (−34.08%) −8,850';


const upBox = make(above, 'rect', {x: 2049, y: yPrice(targetPrice) - 58, width: 259, height: 40, rx: 7, fill: '#2e6cc0', 'fill-opacity': 0.29, filter: 'url(#softShadow)'});


const upText = make(above, 'text', {x: 2178.5, y: yPrice(targetPrice) - 38, 'text-anchor': 'middle', textLength: 228, lengthAdjust: 'spacingAndGlyphs'});
upText.textContent = '1.3091 (59.63%) 13,091';


const targetText = make(above, 'text', {x: 2008, y: yPrice(targetPrice) - 1, style: 'fill:#2962ff;font-size:26px;font-weight:700', textLength: 79, lengthAdjust: 'spacingAndGlyphs'});
targetText.textContent = 'Target';



// Axes
const priceAxis = document.getElementById('priceAxis');
priceTicks.forEach(p => {
  const t = make(priceAxis, 'text', {x: 2530, y: yPrice(p)});
  t.textContent = p.toFixed(4);
  
  
});
rsiTicks.forEach(r => {
  const t = make(priceAxis, 'text', {x: 2530, y: yRsi(r)});
  t.textContent = r.toFixed(2);
  
  
});
const timeAxis = document.getElementById('timeAxis');
monthLabels.forEach((m, i) => {
  const t = make(timeAxis, 'text', {x: xDay(monthDays[i]), y: 1214, 'text-anchor': 'middle'});
  if (m === '2025') t.setAttribute('style', 'font-weight:700');
  t.textContent = m;
  
  
});
</script>
</body>
</html>
